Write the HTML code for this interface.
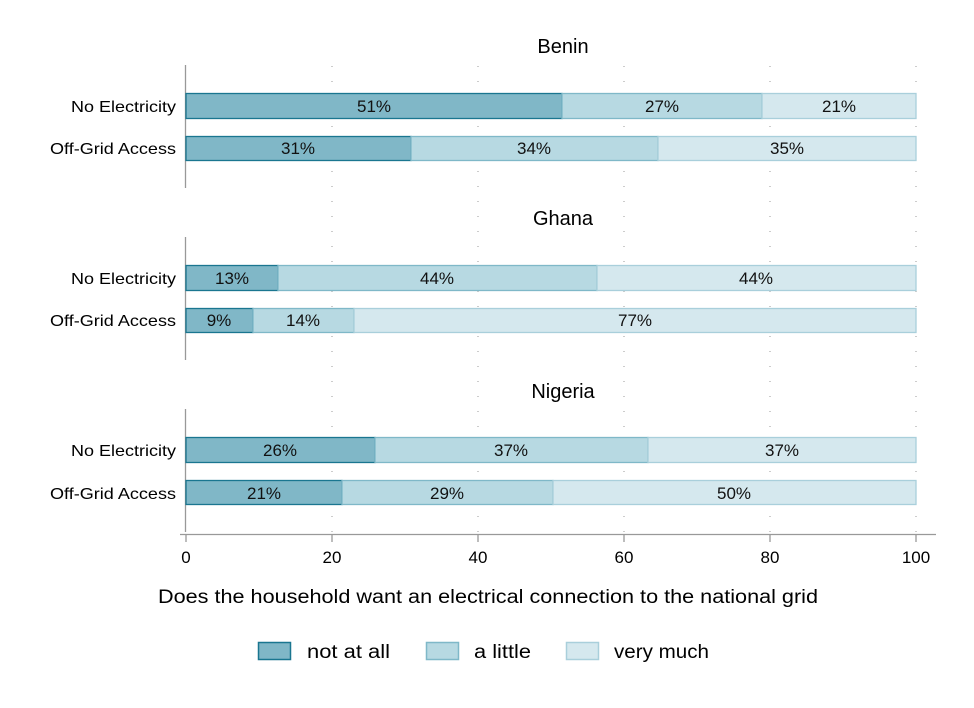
<!DOCTYPE html>
<html><head><meta charset="utf-8"><style>
body{margin:0;background:#fff}
svg{display:block;font-family:"Liberation Sans",sans-serif}
</style></head><body>
<svg width="974" height="708" viewBox="0 0 974 708" xmlns="http://www.w3.org/2000/svg">
<rect width="974" height="708" fill="#fff"/>
<g id="grid" stroke="#999" stroke-width="1" stroke-dasharray="1,14">
<line x1="332" y1="66" x2="332" y2="532"/>
<line x1="478" y1="66" x2="478" y2="532"/>
<line x1="624" y1="66" x2="624" y2="532"/>
<line x1="770" y1="66" x2="770" y2="532"/>
<line x1="916" y1="66" x2="916" y2="532"/>
</g>
<g stroke="#999" stroke-width="1.3">
<line x1="185.5" y1="65" x2="185.5" y2="188"/>
<line x1="185.5" y1="237" x2="185.5" y2="360"/>
<line x1="185.5" y1="409" x2="185.5" y2="532"/>
<line x1="180" y1="534.5" x2="936" y2="534.5"/>
<line x1="186" y1="534" x2="186" y2="542"/>
<line x1="332" y1="534" x2="332" y2="542"/>
<line x1="478" y1="534" x2="478" y2="542"/>
<line x1="624" y1="534" x2="624" y2="542"/>
<line x1="770" y1="534" x2="770" y2="542"/>
<line x1="916" y1="534" x2="916" y2="542"/>
</g>
<g font-size="20" text-anchor="middle" fill="#000">
<text x="563" y="53">Benin</text>
<text x="563" y="225">Ghana</text>
<text x="563" y="398">Nigeria</text>
</g>
<g font-size="16" fill="#000" lengthAdjust="spacingAndGlyphs">
<text x="71" y="112" textLength="105" lengthAdjust="spacingAndGlyphs">No Electricity</text>
<text x="50" y="154" textLength="126" lengthAdjust="spacingAndGlyphs">Off-Grid Access</text>
<text x="71" y="284" textLength="105" lengthAdjust="spacingAndGlyphs">No Electricity</text>
<text x="50" y="326" textLength="126" lengthAdjust="spacingAndGlyphs">Off-Grid Access</text>
<text x="71" y="456" textLength="105" lengthAdjust="spacingAndGlyphs">No Electricity</text>
<text x="50" y="499" textLength="126" lengthAdjust="spacingAndGlyphs">Off-Grid Access</text>
</g>
<g stroke-width="1.3">
<rect x="186" y="93.5" width="376" height="25" fill="#80b7c7" stroke="#1a7690"/>
<rect x="562" y="93.5" width="200" height="25" fill="#b7d9e2" stroke="#7fb8c8"/>
<rect x="762" y="93.5" width="154" height="25" fill="#d5e8ee" stroke="#a9cfdb"/>
<rect x="186" y="136.5" width="225" height="24" fill="#80b7c7" stroke="#1a7690"/>
<rect x="411" y="136.5" width="247" height="24" fill="#b7d9e2" stroke="#7fb8c8"/>
<rect x="658" y="136.5" width="258" height="24" fill="#d5e8ee" stroke="#a9cfdb"/>
<rect x="186" y="265.5" width="92" height="25" fill="#80b7c7" stroke="#1a7690"/>
<rect x="278" y="265.5" width="319" height="25" fill="#b7d9e2" stroke="#7fb8c8"/>
<rect x="597" y="265.5" width="319" height="25" fill="#d5e8ee" stroke="#a9cfdb"/>
<rect x="186" y="308.5" width="67" height="24" fill="#80b7c7" stroke="#1a7690"/>
<rect x="253" y="308.5" width="101" height="24" fill="#b7d9e2" stroke="#7fb8c8"/>
<rect x="354" y="308.5" width="562" height="24" fill="#d5e8ee" stroke="#a9cfdb"/>
<rect x="186" y="437.5" width="189" height="25" fill="#80b7c7" stroke="#1a7690"/>
<rect x="375" y="437.5" width="273" height="25" fill="#b7d9e2" stroke="#7fb8c8"/>
<rect x="648" y="437.5" width="268" height="25" fill="#d5e8ee" stroke="#a9cfdb"/>
<rect x="186" y="480.5" width="156" height="24" fill="#80b7c7" stroke="#1a7690"/>
<rect x="342" y="480.5" width="211" height="24" fill="#b7d9e2" stroke="#7fb8c8"/>
<rect x="553" y="480.5" width="363" height="24" fill="#d5e8ee" stroke="#a9cfdb"/>
</g>
<g font-size="17" text-anchor="middle" fill="#111">
<text x="374" y="112">51%</text><text x="662" y="112">27%</text><text x="839" y="112">21%</text>
<text x="298" y="154">31%</text><text x="534" y="154">34%</text><text x="787" y="154">35%</text>
<text x="232" y="284">13%</text><text x="437" y="284">44%</text><text x="756" y="284">44%</text>
<text x="219" y="326">9%</text><text x="303" y="326">14%</text><text x="635" y="326">77%</text>
<text x="280" y="456">26%</text><text x="511" y="456">37%</text><text x="782" y="456">37%</text>
<text x="264" y="499">21%</text><text x="447" y="499">29%</text><text x="734" y="499">50%</text>
</g>
<g font-size="17" text-anchor="middle" fill="#000">
<text x="186" y="563">0</text><text x="332" y="563">20</text><text x="478" y="563">40</text>
<text x="624" y="563">60</text><text x="770" y="563">80</text><text x="916" y="563">100</text>
</g>
<text x="158" y="603" font-size="19" fill="#000" textLength="660" lengthAdjust="spacingAndGlyphs">Does the household want an electrical connection to the national grid</text>
<g stroke-width="1.5">
<rect x="258.5" y="642.5" width="32" height="17" fill="#80b7c7" stroke="#1a7690"/>
<rect x="426.5" y="642.5" width="32" height="17" fill="#b7d9e2" stroke="#7fb8c8"/>
<rect x="566.5" y="642.5" width="32" height="17" fill="#d5e8ee" stroke="#a9cfdb"/>
</g>
<g font-size="19" fill="#000">
<text x="307" y="658" textLength="83" lengthAdjust="spacingAndGlyphs">not at all</text>
<text x="474" y="658" textLength="57" lengthAdjust="spacingAndGlyphs">a little</text>
<text x="614" y="658" textLength="95" lengthAdjust="spacingAndGlyphs">very much</text>
</g>
</svg>
</body></html>
